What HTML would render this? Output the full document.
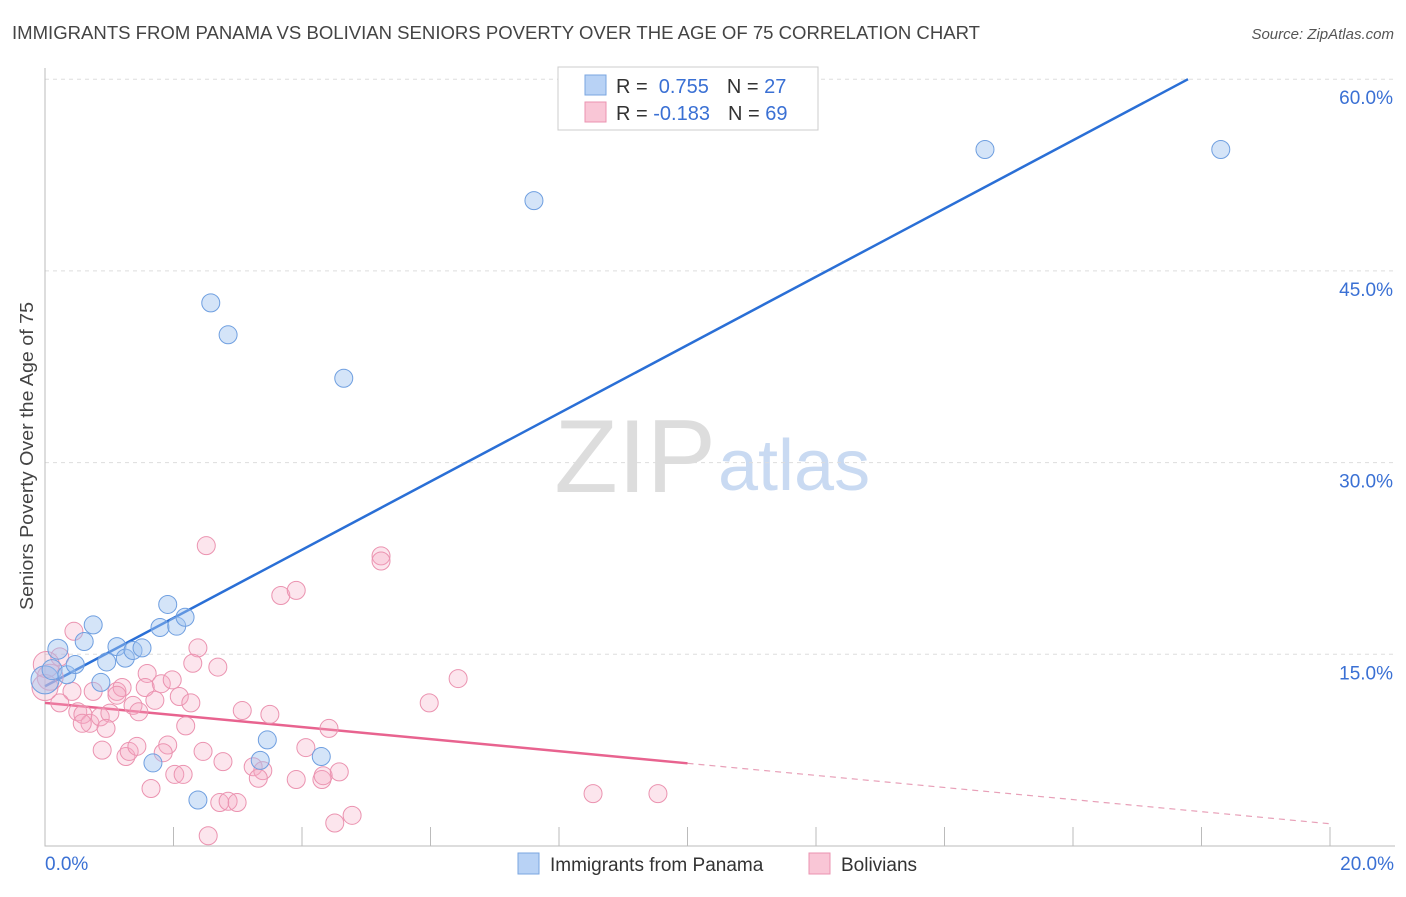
<!DOCTYPE html>
<html><head><meta charset="utf-8"><style>
body{margin:0;background:#fff;font-family:"Liberation Sans",sans-serif}
svg text{font-family:"Liberation Sans",sans-serif}
</style></head><body>
<svg id="chart" width="1406" height="892" viewBox="0 0 1406 892">
<text x="12" y="39" font-size="18" fill="#444" textLength="968" lengthAdjust="spacingAndGlyphs">IMMIGRANTS FROM PANAMA VS BOLIVIAN SENIORS POVERTY OVER THE AGE OF 75 CORRELATION CHART</text>
<text x="1394" y="39" font-size="15" fill="#555" text-anchor="end" font-style="italic">Source: ZipAtlas.com</text>
<text x="716" y="492" font-size="104" text-anchor="end" fill="#ddd" font-family="Liberation Serif">ZIP</text>
<text x="718" y="490" font-size="72" fill="#c9daf2">atlas</text>
<text transform="translate(33,456) rotate(-90)" font-size="18" fill="#444" text-anchor="middle" textLength="308" lengthAdjust="spacingAndGlyphs">Seniors Poverty Over the Age of 75</text>
<g id="grid"></g><g id="axes"></g><g id="lines"></g><g id="pts"></g>
<g>
<rect x="558" y="67" width="260" height="63" fill="#fff" stroke="#ccc"/>
<rect x="585" y="75" width="21" height="20" fill="#b8d2f5" stroke="#7aa6e0"/>
<text x="616" y="93" font-size="20" fill="#333">R = <tspan fill="#3a70d4">&#160;0.755</tspan><tspan dx="18">N = </tspan><tspan fill="#3a70d4">27</tspan></text>
<rect x="585" y="102" width="21" height="20" fill="#f9c6d6" stroke="#eb93b0"/>
<text x="616" y="120" font-size="20" fill="#333">R = <tspan fill="#3a70d4">-0.183</tspan><tspan dx="18">N = </tspan><tspan fill="#3a70d4">69</tspan></text>
</g>
<g>
<rect x="518" y="853" width="21" height="21" fill="#b8d2f5" stroke="#7aa6e0"/>
<text x="550" y="871" font-size="19" fill="#333">Immigrants from Panama</text>
<rect x="809" y="853" width="21" height="21" fill="#f9c6d6" stroke="#eb93b0"/>
<text x="841" y="871" font-size="19" fill="#333">Bolivians</text>
</g>
</svg>
<script>
const blueX=[0.20,0,0.11,0.34,0.47,0.75,0.61,0.87,0.96,1.12,1.25,1.37,1.51,1.68,1.79,1.91,2.05,2.18,2.38,2.58,2.85,3.35,3.46,4.30,4.65,7.61,14.63,18.30];
const blueY=[15.4,13.0,13.8,13.4,14.2,17.3,16.0,12.8,14.4,15.6,14.7,15.3,15.5,6.5,17.1,18.9,17.2,17.9,3.6,42.5,40.0,6.7,8.3,7.0,36.6,50.5,54.5,54.5];
const pinkX=[2.51,5.23,5.23,3.67,3.91,0.45,2.38,2.30,2.69,6.43,5.98,0.23,0.08,0.42,0.23,0.75,1.12,1.20,1.12,1.59,1.56,1.81,1.98,1.71,2.09,2.27,1.37,1.46,0.51,0.59,0.70,0.58,0.86,1.01,0.95,3.07,3.50,2.19,4.42,0.89,1.26,1.31,1.43,1.91,1.84,2.46,2.77,4.06,3.24,3.39,3.32,3.91,4.31,4.33,4.58,1.65,2.02,2.15,2.72,2.85,2.99,4.51,4.78,2.54,8.53,9.54,0.02,0];
const pinkY=[23.5,22.7,22.3,19.6,20.0,16.8,15.5,14.3,14.0,13.1,11.2,14.8,13.2,12.1,11.2,12.1,12.1,12.4,11.8,13.5,12.4,12.7,13.0,11.4,11.7,11.2,11.0,10.5,10.5,10.3,9.6,9.6,10.1,10.4,9.2,10.6,10.3,9.4,9.2,7.5,7.0,7.4,7.8,7.9,7.3,7.4,6.6,7.7,6.2,5.9,5.3,5.2,5.2,5.5,5.8,4.5,5.6,5.6,3.4,3.5,3.4,1.8,2.4,0.8,4.1,4.1,14.2,12.4];
const yTicks=[15,30,45,60];
const xTickLabels=["0.0%","20.0%"];
const blueFit=[12.5,2.67];
const pinkFit=[11.2,-0.473];
const sx=v=>45+v*64.25, sy=v=>846-v*12.78;
const NS="http://www.w3.org/2000/svg";
function mk(tag,parent,attrs){const e=document.createElementNS(NS,tag);for(const k in attrs)e.setAttribute(k,attrs[k]);document.getElementById(parent).appendChild(e);return e;}
yTicks.forEach(t=>{
 const l=mk('line','grid',{x1:45,x2:1395,y1:sy(t),y2:sy(t),stroke:'#ddd','stroke-dasharray':'4,4'});
 
 
 const tx=mk('text','grid',{x:1393,y:sy(t)+25,'font-size':19,fill:'#3a70d4','text-anchor':'end'});
 tx.textContent=t.toFixed(1)+'%';
 
 
});
const ax=mk('path','axes',{d:'M45 68V846H1395',stroke:'#bbb',fill:'none'});


for(let i=1;i<=10;i++){const t=mk('line','axes',{x1:sx(i*2),x2:sx(i*2),y1:827,y2:846,stroke:'#bbb'});
 
 }
[[0,'start',45],[20,'end',1394]].forEach((a,i)=>{const t=mk('text','axes',{x:a[2],y:870,'font-size':19,fill:'#3a70d4','text-anchor':a[1]});t.textContent=xTickLabels[i];
 
 });
const bx2=(60-blueFit[0])/blueFit[1];
const bl=mk('line','lines',{x1:sx(0),y1:sy(blueFit[0]),x2:sx(bx2),y2:sy(60),stroke:'#2a6fd6','stroke-width':2.5});


const pl=mk('line','lines',{x1:sx(0),y1:sy(pinkFit[0]),x2:sx(10),y2:sy(pinkFit[0]+10*pinkFit[1]),stroke:'#e8638f','stroke-width':2.5});


const pd=mk('line','lines',{x1:sx(10),y1:sy(pinkFit[0]+10*pinkFit[1]),x2:sx(20),y2:sy(pinkFit[0]+20*pinkFit[1]),stroke:'#e8a0b8','stroke-width':1.2,'stroke-dasharray':'6,5'});


pinkX.forEach((x,i)=>{const c=mk('circle','pts',{cx:sx(x),cy:sy(pinkY[i]),r:(x<0.1?13:9),fill:'rgba(245,170,195,0.3)',stroke:'#eb93b0','stroke-width':1});
 
 });
blueX.forEach((x,i)=>{const c=mk('circle','pts',{cx:sx(x),cy:sy(blueY[i]),r:(x<0.25&&blueY[i]<16?(x<0.05?14:10):9),fill:'rgba(160,195,240,0.45)',stroke:'#6f9fe0','stroke-width':1});
 
 });
</script>
</body></html>
